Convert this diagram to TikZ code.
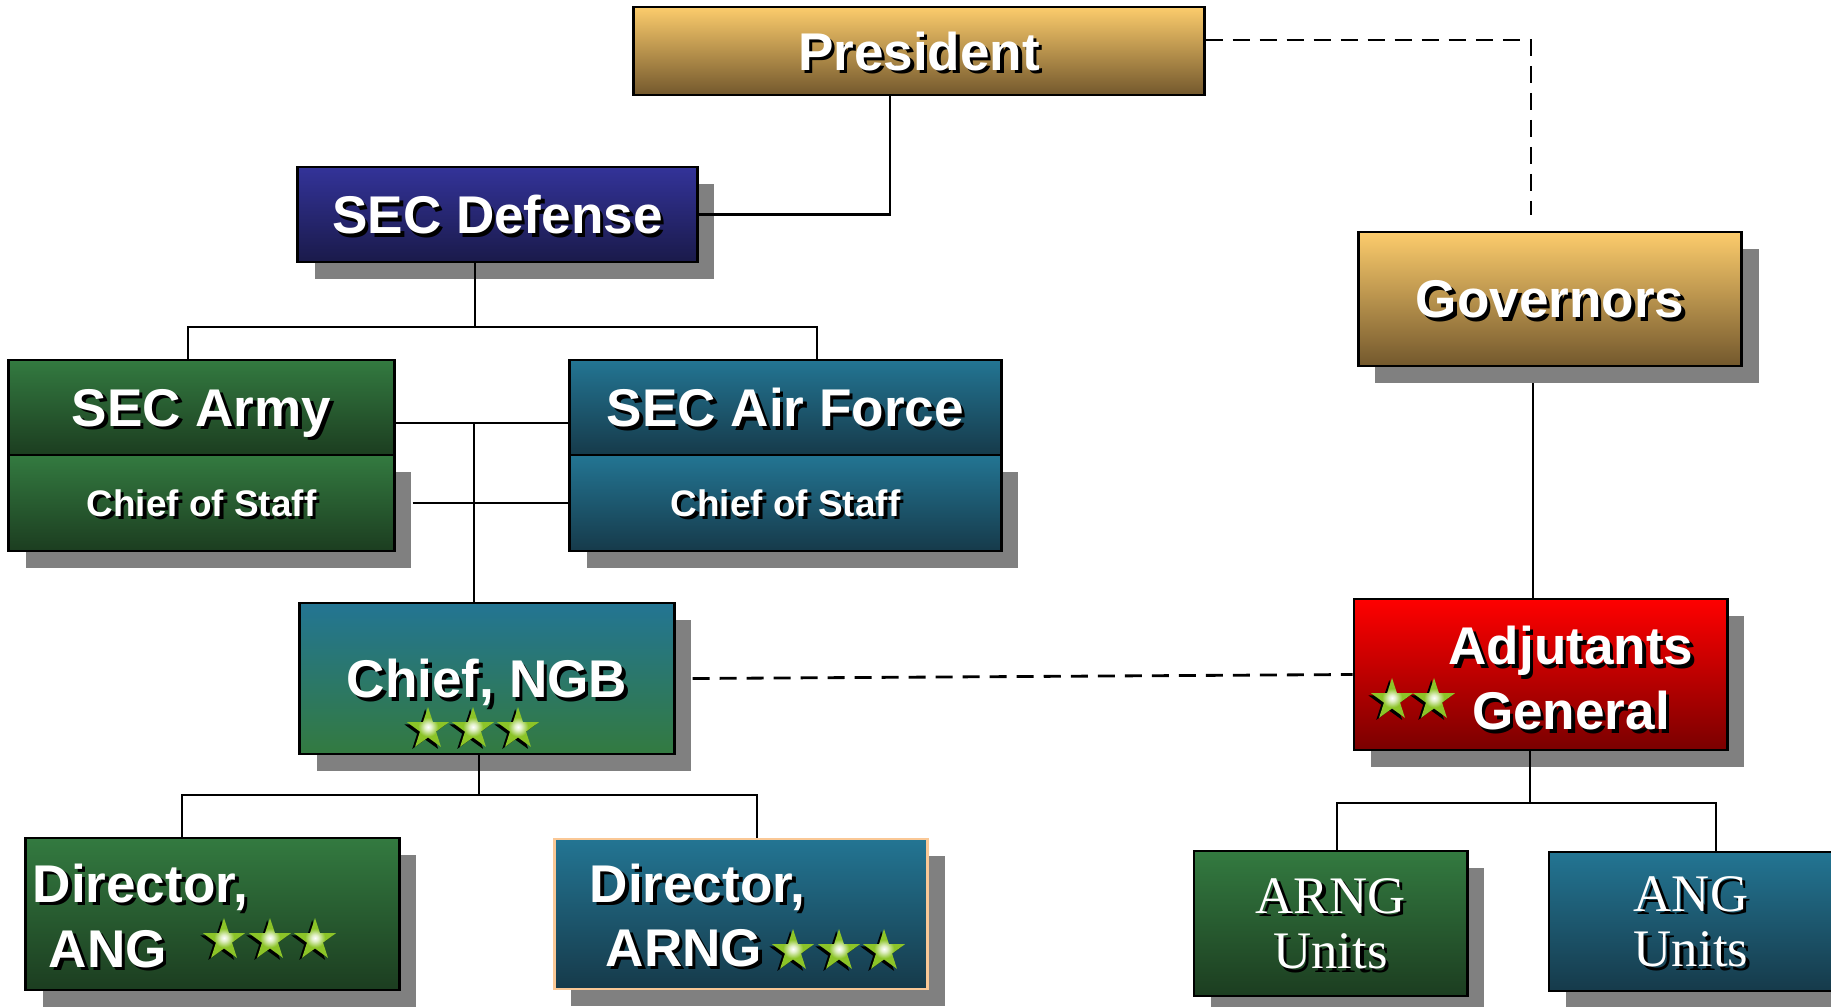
\documentclass[tikz,border=0pt]{standalone}
\usepackage{fontspec}
\newfontfamily\boxfont{Liberation Sans}
\newfontfamily\unitfont{Liberation Serif}
\usetikzlibrary{shapes.geometric,shadows}

\definecolor{goldtop}{RGB}{252,204,108}
\definecolor{goldbot}{RGB}{115,88,45}
\definecolor{navytop}{RGB}{51,51,153}
\definecolor{navybot}{RGB}{26,26,74}
\definecolor{greentop}{RGB}{51,122,64}
\definecolor{greenbot}{RGB}{28,61,32}
\definecolor{tealtop}{RGB}{35,117,147}
\definecolor{tealbot}{RGB}{22,58,74}
\definecolor{redtop}{RGB}{255,0,0}
\definecolor{redbot}{RGB}{122,0,0}
\definecolor{starlime}{RGB}{140,196,40}
\definecolor{peach}{RGB}{250,200,150}

% lime star with a white glint in the middle
\pgfdeclareradialshading{starglint}{\pgfpoint{0bp}{0bp}}{color(0bp)=(white);
	color(4bp)=(white!75!starlime); color(12bp)=(starlime); color(50bp)=(starlime)}

% white text with a small black shadow
\newcommand{\shd}[1]{\makebox[0pt][l]{\kern1pt\raisebox{-1pt}{\color{black}#1}}#1}

\begin{document}
\begin{tikzpicture}[x=0.01cm,y=-0.01cm,
	orgbox/.style={draw=black,line width=0.8pt,inner sep=0pt,text=white,text depth=0pt,
		font=\boxfont\bfseries\fontsize{15.1}{18}\selectfont},
	boxshadow/.style={drop shadow={shadow xshift=0.17cm,shadow yshift=-0.17cm,fill=gray,opacity=1}},
	goldfill/.style={top color=goldtop,bottom color=goldbot},
	navyfill/.style={top color=navytop,bottom color=navybot},
	greenfill/.style={top color=greentop,bottom color=greenbot},
	tealfill/.style={top color=tealtop,bottom color=tealbot},
	mixfill/.style={top color=tealtop,bottom color=greentop},
	redfill/.style={top color=redtop,bottom color=redbot},
	boxtext/.style={text=white,inner sep=0pt,font=\boxfont\bfseries\fontsize{15.1}{18.4}\selectfont},
	unittext/.style={align=center,font=\unitfont\fontsize{15}{15.9}\selectfont},
	rankstar/.style={star,star points=5,star point ratio=2.6,minimum size=0.44cm,inner sep=0pt,
		shading=starglint,
		drop shadow={shadow xshift=-0.8pt,shadow yshift=-0.6pt,fill=black,opacity=1}},
	conn/.style={line width=0.6pt},
	dashline/.style={line width=0.8pt,dash pattern=on 0.17cm off 0.1cm}]
\useasboundingbox (0,0) rectangle (1831,1006);

\path
(919,51) node(pres) [orgbox,goldfill,minimum width=5.7cm,minimum height=0.88cm] {\shd{President}}
(497.5,214.5) node(secdef) [orgbox,boxshadow,navyfill,minimum width=3.99cm,minimum height=0.95cm] {\shd{SEC Defense}}
(201.5,407.5) node(armysec) [orgbox,greenfill,minimum width=3.85cm,minimum height=0.95cm] {\shd{SEC Army}}
(201.5,503) node(armycos) [orgbox,boxshadow,greenfill,minimum width=3.85cm,minimum height=0.96cm,
	font=\boxfont\bfseries\fontsize{10.5}{12}\selectfont] {\shd{Chief of Staff}}
(785.5,407.5) node(airsec) [orgbox,tealfill,minimum width=4.31cm,minimum height=0.95cm] {\shd{SEC Air Force}}
(785.5,503) node(aircos) [orgbox,boxshadow,tealfill,minimum width=4.31cm,minimum height=0.96cm,
	font=\boxfont\bfseries\fontsize{10.5}{12}\selectfont] {\shd{Chief of Staff}}
(487,678.5) node(ngb) [orgbox,boxshadow,mixfill,minimum width=3.74cm,minimum height=1.51cm] {\shd{Chief, NGB}}
(212.5,914) node(angdir) [orgbox,boxshadow,greenfill,minimum width=3.73cm,minimum height=1.52cm] {}
(741,914) node(arngdir) [orgbox,boxshadow,tealfill,draw=peach,minimum width=3.73cm,minimum height=1.5cm] {}
(1550,299) node(gov) [orgbox,boxshadow,goldfill,minimum width=3.83cm,minimum height=1.34cm] {\shd{Governors}}
(1540.5,674.5) node(adj) [orgbox,boxshadow,redfill,minimum width=3.73cm,minimum height=1.51cm] {}
(1330.5,923.5) node(arngu) [orgbox,boxshadow,greenfill,unittext,minimum width=2.73cm,minimum height=1.45cm] {\shd{ARNG}\\\shd{Units}}
(1691,921.5) node(angu) [orgbox,boxshadow,tealfill,unittext,minimum width=2.84cm,minimum height=1.39cm] {\shd{ANG}\\\shd{Units}};

% texts and stars inside the boxes
\path
(32,902) node(angdirA) [boxtext,anchor=base west] {\shd{Director,}}
(48,967) node(angdirB) [boxtext,anchor=base west] {\shd{ANG}}
(589,902) node(arngdirA) [boxtext,anchor=base west] {\shd{Director,}}
(605,966) node(arngdirB) [boxtext,anchor=base west] {\shd{ARNG}}
(1571,680) node(adjtext) [boxtext,align=center] {\shd{Adjutants}\\\shd{General}}
(428,729) node(ngbs1) [rankstar] {}
(473,729) node(ngbs2) [rankstar] {}
(518,729) node(ngbs3) [rankstar] {}
(224,940) node(angs1) [rankstar] {}
(270,940) node(angs2) [rankstar] {}
(315,940) node(angs3) [rankstar] {}
(793,951) node(arngs1) [rankstar] {}
(839,951) node(arngs2) [rankstar] {}
(884,951) node(arngs3) [rankstar] {}
(1392,700) node(adjs1) [rankstar] {}
(1434,700) node(adjs2) [rankstar] {};

\coordinate (sdbar) at (475,327);
\coordinate (spine) at (474,423);
\coordinate (ngbbar) at (479,795);
\coordinate (govline) at (1533,383);
\coordinate (adjbar) at (1530,803);
\coordinate (dashcorner) at (1531,40);
\coordinate (govtop) at (1531,215);

\draw[conn] ([xshift=-0.29cm]pres.south) |- (secdef.east);
\draw[conn] (secdef.south -| sdbar) -- (sdbar);
\draw[conn] ([xshift=-0.135cm]armysec.north) |- (sdbar) -| ([xshift=0.315cm]airsec.north);
\draw[conn] ([yshift=-0.155cm]armysec.east) -- ([yshift=-0.155cm]airsec.west);
\draw[conn] ([xshift=0.17cm]armycos.east) -- (aircos.west);
\draw[conn] (spine) -- (spine |- ngb.north);
\draw[conn] (ngb.south -| ngbbar) -- (ngbbar);
\draw[conn] ([xshift=-0.305cm]angdir.north) |- (ngbbar) -| ([xshift=0.16cm]arngdir.north);
\draw[conn] (govline) -- (govline |- adj.north);
\draw[conn] (adj.south -| adjbar) -- (adjbar);
\draw[conn] ([xshift=0.065cm]arngu.north) |- (adjbar) -| ([xshift=0.25cm]angu.north);
\draw[dashline] (pres.east |- dashcorner) -- (dashcorner) -- (govtop);
\draw[dashline] ([xshift=0.17cm]ngb.east) -- (adj.west);
\end{tikzpicture}
\end{document}
